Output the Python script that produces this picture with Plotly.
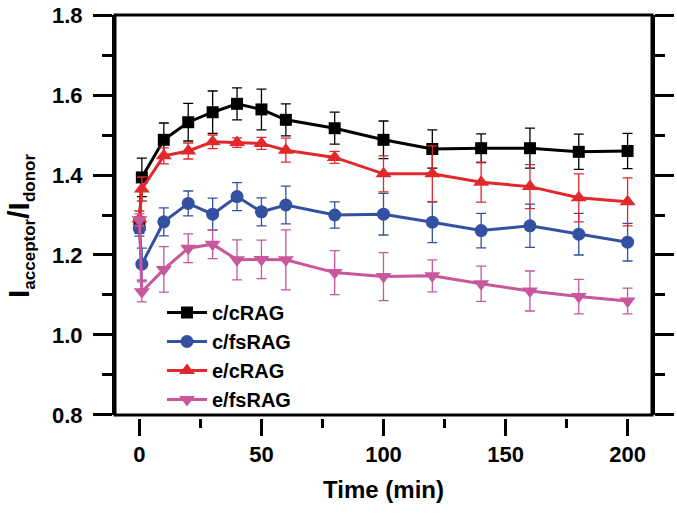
import plotly.graph_objects as go

time_min = [0, 1, 10, 20, 30, 40, 50, 60, 80, 100, 120, 140, 160, 180, 200]

series_names = ["c/cRAG", "c/fsRAG", "e/cRAG", "e/fsRAG"]

c_cRAG = [1.275, 1.394, 1.488, 1.532, 1.557, 1.578, 1.564, 1.538, 1.517, 1.488, 1.465, 1.467, 1.467, 1.458, 1.460]
c_cRAG_err = [0.02, 0.048, 0.042, 0.047, 0.053, 0.040, 0.051, 0.040, 0.040, 0.047, 0.048, 0.036, 0.050, 0.044, 0.044]

c_fsRAG = [1.267, 1.177, 1.283, 1.329, 1.302, 1.346, 1.308, 1.325, 1.300, 1.302, 1.282, 1.261, 1.273, 1.252, 1.232]
c_fsRAG_err = [0.02, 0.040, 0.035, 0.031, 0.040, 0.035, 0.035, 0.047, 0.033, 0.052, 0.051, 0.043, 0.054, 0.052, 0.047]

e_cRAG = [1.290, 1.365, 1.448, 1.460, 1.483, 1.481, 1.479, 1.462, 1.444, 1.403, 1.403, 1.382, 1.371, 1.343, 1.333]
e_cRAG_err = [0.02, 0.030, 0.020, 0.020, 0.017, 0.012, 0.015, 0.030, 0.015, 0.045, 0.070, 0.050, 0.055, 0.060, 0.060]

e_fsRAG = [1.288, 1.108, 1.164, 1.217, 1.227, 1.188, 1.189, 1.188, 1.156, 1.146, 1.148, 1.128, 1.110, 1.096, 1.085]
e_fsRAG_err = [0.015, 0.025, 0.057, 0.036, 0.036, 0.050, 0.048, 0.075, 0.055, 0.060, 0.040, 0.044, 0.050, 0.043, 0.032]

values = [c_cRAG, c_fsRAG, e_cRAG, e_fsRAG]
errors = [c_cRAG_err, c_fsRAG_err, e_cRAG_err, e_fsRAG_err]
colors = ["#000000", "#3450a0", "#e1282d", "#c8579b"]
symbols = ["square", "circle", "triangle-up", "triangle-down"]
sizes = [12, 13, 14, 14]

FONT = "Liberation Sans, Arial, sans-serif"

fig = go.Figure()
for name, v, e, c, s, sz in zip(series_names, values, errors, colors, symbols, sizes):
    fig.add_trace(go.Scatter(
        x=time_min, y=v, name=name, mode="lines+markers",
        line=dict(color=c, width=3),
        marker=dict(color=c, symbol=s, size=sz),
        error_y=dict(type="data", array=e, color=c, thickness=1.3, width=5),
        legendgroup=name,
    ))

W, H = 677, 517
ml, mr, mt, mb = 115, 25, 15, 99
pw = W - ml - mr   # 537
ph = H - mt - mb   # 403
off = 3 / ph

def px_x(p):
    return (p - ml) / pw

def px_y(p):
    return (H - mb - p) / ph

fig.update_layout(
    width=W, height=H,
    margin=dict(l=ml, r=mr, t=mt, b=mb, autoexpand=False),
    paper_bgcolor="white", plot_bgcolor="white",
    font=dict(family=FONT, color="black"),
    showlegend=True,
    legend=dict(
        x=px_x(162), y=px_y(293), xanchor="left", yanchor="top",
        font=dict(size=20, family=FONT, weight="bold"),
        bgcolor="rgba(0,0,0,0)", tracegroupgap=0, itemwidth=40,
    ),
    xaxis=dict(
        range=[-10, 210], anchor="free", position=0, automargin=False,
        tickmode="linear", tick0=0, dtick=50,
        ticks="outside", ticklen=17, tickwidth=3, tickcolor="black",
        minor=dict(dtick=25, tick0=0, ticklen=9, tickwidth=3, tickcolor="black", ticks="outside"),
        showline=False, showgrid=False, zeroline=False,
        tickfont=dict(size=22, family=FONT, weight="bold"),
        title=dict(text="Time (min)", font=dict(size=24, family=FONT, weight="bold"), standoff=14),
    ),
    yaxis=dict(
        domain=[off, 1], automargin=False,
        range=[0.7999, 1.8001],
        tickmode="linear", tick0=0.8, dtick=0.2, tickformat=".1f",
        ticks="outside", ticklen=19, tickwidth=3, tickcolor="black",
        minor=dict(dtick=0.1, tick0=0.8, ticklen=10, tickwidth=3, tickcolor="black", ticks="outside"),
        showline=True, linewidth=3, linecolor="black", mirror="ticks",
        showgrid=False, zeroline=False, ticklabelstandoff=6,
        tickfont=dict(size=22, family=FONT, weight="bold"),
    ),
    shapes=[dict(type="rect", xref="x domain", yref="y domain", x0=0, x1=1, y0=0, y1=1,
                 line=dict(color="black", width=3), layer="above")],
    annotations=[dict(
        text="I<sub><span style='font-size:17px'>acceptor</span></sub>/I<sub><span style='font-size:17px'>donor</span></sub>",
        xref="paper", yref="paper", x=px_x(21), y=px_y(226),
        xanchor="center", yanchor="middle", textangle=-90, showarrow=False,
        font=dict(size=30, family=FONT, weight="bold", color="black"),
    )],
)

fig.write_html("out.html", config={"displayModeBar": False},
               post_script="document.body.style.margin='0px';")
